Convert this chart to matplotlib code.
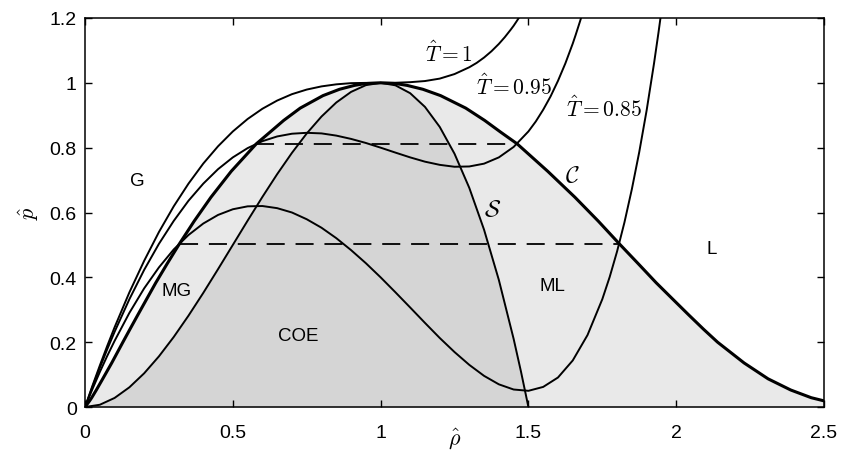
import matplotlib
matplotlib.use('Agg')
import matplotlib.pyplot as plt

plt.rcParams['font.family'] = ['Liberation Sans', 'DejaVu Sans']
plt.rcParams['mathtext.fontset'] = 'cm'

# isotherms (reduced density, reduced pressure)
rho_t100 = [0, 0.025, 0.05, 0.075, 0.1, 0.15, 0.2, 0.25, 0.3, 0.35, 0.4, 0.45, 0.5, 0.55, 0.6, 0.65,
            0.7, 0.75, 0.8, 0.85, 0.9, 0.95, 1.0, 1.05, 1.1, 1.15, 1.2, 1.25, 1.3, 1.325, 1.35, 1.375,
            1.4, 1.42, 1.44, 1.45, 1.46, 1.47, 1.48]
p_t100 = [0, 0.0654, 0.128, 0.1883, 0.246, 0.3536, 0.451, 0.5398, 0.619, 0.6891, 0.751, 0.8043, 0.85,
          0.8884, 0.92, 0.9453, 0.965, 0.9792, 0.989, 0.9953, 0.999, 0.9998, 1.0, 1.0002, 1.002, 1.0055,
          1.013, 1.027, 1.048, 1.0615, 1.078, 1.0974, 1.12, 1.1407, 1.1638, 1.176, 1.1896, 1.2036, 1.218]

rho_t095 = [0, 0.025, 0.05, 0.075, 0.1, 0.15, 0.2, 0.25, 0.3, 0.35, 0.4, 0.45, 0.5, 0.55, 0.6, 0.65,
            0.7, 0.75, 0.8, 0.85, 0.9, 0.95, 1.0, 1.05, 1.1, 1.15, 1.2, 1.25, 1.3, 1.35, 1.4, 1.45,
            1.5, 1.525, 1.55, 1.575, 1.6, 1.625, 1.65, 1.66, 1.675, 1.685]
p_t095 = [0, 0.062, 0.121, 0.178, 0.232, 0.3325, 0.423, 0.5034, 0.574, 0.6363, 0.689, 0.7337, 0.77,
          0.7986, 0.82, 0.8346, 0.843, 0.8458, 0.844, 0.8372, 0.827, 0.8145, 0.8, 0.7848, 0.77, 0.7568,
          0.747, 0.7411, 0.742, 0.7507, 0.77, 0.8022, 0.85, 0.8808, 0.917, 0.9581, 1.006, 1.0599,
          1.121, 1.1481, 1.1907, 1.2207]

rho_t085 = [0, 0.025, 0.05, 0.075, 0.1, 0.15, 0.2, 0.25, 0.3, 0.35, 0.4, 0.45, 0.5, 0.55, 0.6, 0.65,
            0.7, 0.75, 0.8, 0.85, 0.9, 0.95, 1.0, 1.05, 1.1, 1.15, 1.2, 1.25, 1.3, 1.35, 1.4, 1.45,
            1.5, 1.55, 1.6, 1.65, 1.7, 1.75, 1.775, 1.8, 1.825, 1.85, 1.875, 1.9, 1.925, 1.94, 1.95]
p_t085 = [0, 0.0553, 0.108, 0.1575, 0.204, 0.2904, 0.366, 0.4307, 0.486, 0.5306, 0.566, 0.5925, 0.61,
          0.619, 0.62, 0.6134, 0.60, 0.5792, 0.553, 0.5209, 0.484, 0.4437, 0.4, 0.354, 0.307, 0.2595,
          0.213, 0.1696, 0.13, 0.0961, 0.07, 0.054, 0.05, 0.062, 0.091, 0.1436, 0.222, 0.3325, 0.4012,
          0.48, 0.5698, 0.672, 0.7865, 0.915, 1.0599, 1.1545, 1.221]

# coexistence curve C
rho_coex = [0, 0.0154, 0.0225, 0.0382, 0.0598, 0.0903, 0.128, 0.1518, 0.1785, 0.2076, 0.2394, 0.2774,
            0.3197, 0.3693, 0.4259, 0.4945, 0.5795, 0.626, 0.672, 0.728, 0.805, 0.861, 0.911, 0.937,
            0.955, 1.0, 1.045, 1.063, 1.09, 1.143, 1.203, 1.288, 1.352, 1.406, 1.4618, 1.5655, 1.6575,
            1.7363, 1.807, 1.8723, 1.9322, 1.9896, 2.0425, 2.0927, 2.14, 2.2296, 2.311, 2.3875, 2.457, 2.5]
p_coex = [0, 0.019, 0.0287, 0.0525, 0.0869, 0.136, 0.2, 0.2398, 0.284, 0.3316, 0.3834, 0.4414,
          0.504, 0.5735, 0.647, 0.727, 0.8119, 0.848, 0.884, 0.922, 0.9605, 0.9801, 0.992, 0.996,
          0.998, 1.0, 0.998, 0.996, 0.992, 0.9801, 0.9605, 0.922, 0.884, 0.848, 0.8119, 0.727, 0.647,
          0.5735, 0.504, 0.4414, 0.3834, 0.3316, 0.284, 0.2398, 0.2, 0.136, 0.0869, 0.0525, 0.0287, 0.019]

# spinodal S
rho_spin = [0, 0.05, 0.1, 0.15, 0.2, 0.25, 0.3, 0.35, 0.4, 0.45, 0.5, 0.55, 0.6, 0.65, 0.7, 0.75, 0.8,
            0.85, 0.9, 0.95, 1.0, 1.05, 1.1, 1.15, 1.2, 1.25, 1.3, 1.35, 1.4, 1.45, 1.475, 1.5]
p_spin = [0, 0.007, 0.028, 0.0608, 0.104, 0.1563, 0.216, 0.2818, 0.352, 0.4253, 0.5, 0.5748, 0.648,
          0.7183, 0.784, 0.8438, 0.896, 0.9393, 0.972, 0.9928, 1.0, 0.9923, 0.968, 0.9258, 0.864, 0.7813,
          0.676, 0.5468, 0.392, 0.2103, 0.1088, 0]

# Maxwell tie lines
tie_p = [0.8119, 0.504]
tie_left = [0.5795, 0.3197]
tie_right = [1.4618, 1.807]

fig = plt.figure(figsize=(8.42, 4.52), dpi=100)
ax = fig.add_axes([0.101, 0.0973, 0.8776, 0.8607])

ax.fill_between(rho_coex, p_coex, 0, color='#e9e9e9', lw=0)
ax.fill_between(rho_spin, p_spin, 0, color='#d5d5d5', lw=0)

ax.plot(rho_t100, p_t100, color='black', lw=1.4)
ax.plot(rho_t095, p_t095, color='black', lw=1.4)
ax.plot(rho_t085, p_t085, color='black', lw=1.4)
ax.plot(rho_spin, p_spin, color='black', lw=1.4)
ax.plot(rho_coex, p_coex, color='black', lw=2.2)

for p, a, b in zip(tie_p, tie_left, tie_right):
    ax.plot([a, b], [p, p], color='black', lw=1.3, linestyle=(0, (10, 6)))

ax.text(0.176, 0.70, 'G', fontsize=13.5, ha='center', va='center')
ax.text(0.31, 0.36, 'MG', fontsize=13.5, ha='center', va='center')
ax.text(0.72, 0.22, 'COE', fontsize=13.5, ha='center', va='center')
ax.text(1.58, 0.376, 'ML', fontsize=13.5, ha='center', va='center')
ax.text(2.12, 0.49, 'L', fontsize=13.5, ha='center', va='center')

ax.text(1.23, 1.09, r'$\hat{T}=1$', fontsize=15.5, ha='center', va='center')
ax.text(1.45, 0.99, r'$\hat{T}=0.95$', fontsize=15.5, ha='center', va='center')
ax.text(1.755, 0.922, r'$\hat{T}=0.85$', fontsize=15.5, ha='center', va='center')
ax.text(1.65, 0.716, r'$\mathcal{C}$', fontsize=17, ha='center', va='center')
ax.text(1.38, 0.61, r'$\mathcal{S}$', fontsize=17, ha='center', va='center')

ax.set_xlim(0, 2.5)
ax.set_ylim(0, 1.2)
ax.set_xticks([0, 0.5, 1, 1.5, 2, 2.5])
ax.set_xticklabels(['0', '0.5', '1', '1.5', '2', '2.5'])
ax.set_yticks([0, 0.2, 0.4, 0.6, 0.8, 1, 1.2])
ax.set_yticklabels(['0', '0.2', '0.4', '0.6', '0.8', '1', '1.2'])
ax.tick_params(direction='in', top=True, right=True, length=5, width=1, labelsize=14, pad=6)
ax.tick_params(axis='x', pad=12)
for s in ax.spines.values():
    s.set_linewidth(1.1)

ax.set_xlabel(r'$\hat{\rho}$', fontsize=16, labelpad=-11)
ax.set_ylabel(r'$\hat{p}$', fontsize=16, labelpad=6)

fig.savefig('out.png', dpi=100)
